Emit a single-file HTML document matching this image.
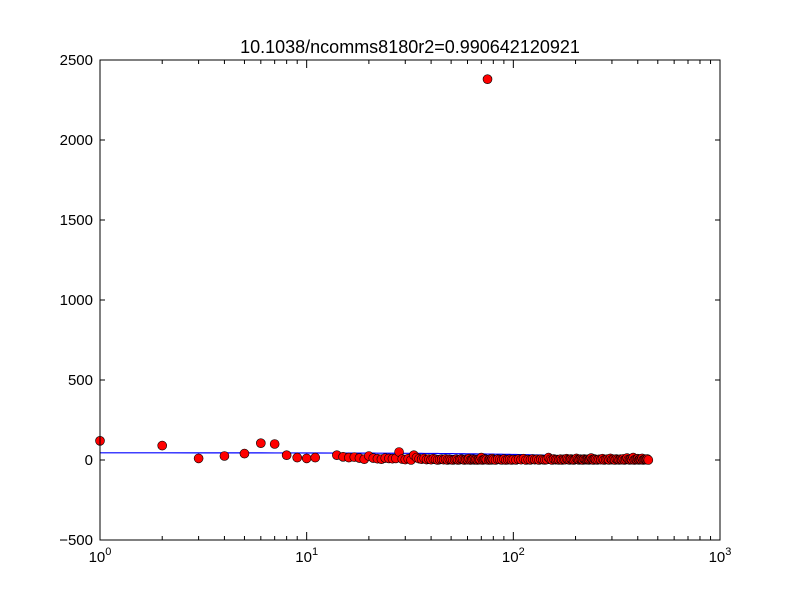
<!DOCTYPE html>
<html><head><meta charset="utf-8"><style>
body{margin:0;background:#fff;}
svg text{font-family:"Liberation Sans","DejaVu Sans",sans-serif;}
</style></head><body>
<svg id="chart" width="800" height="600" xmlns="http://www.w3.org/2000/svg">
<rect width="800" height="600" fill="#fff"/>
<text x="410" y="53" font-size="18" text-anchor="middle">10.1038/ncomms8180r2=0.990642120921</text>
<g id="marks"></g>
<rect x="100" y="60" width="620" height="480" fill="none" stroke="#000" stroke-width="1"/>
<g id="axes"></g>
</svg>
<script>
const yTicks=[-500,0,500,1000,1500,2000,2500];
const xTickExps=[0,1,2,3];
const xHead=[1,2,3,4,5,6,7,8,9,10,11];
const yHead=[120,90,10,25,40,105,100,30,15,10,15];
const xBody=[14,15,16,17,18,19,20,21,22,23,24,25,26,27,28,29,30,31,32,33,34,35,36,37,38,39,40,41,42,43,44,45,46,47,48,49,50,51,52,53,54,55,56,57,58,59,60,61,62,63,64,65,66,67,68,69,70,71,72,73,74,76,77,78,79,80,82,84,86,88,90,92,94,96,98,100,103,106,109,112,115,118,121,124,127,130,133,136,139,142,145,148,151,154,157,160,163,166,169,172,175,178,181,184,187,190,193,196,199,202,205,208,211,214,217,220,223,226,229,232,235,238,241,244,247,250,255,260,265,270,275,280,285,290,295,300,305,310,315,320,325,330,335,340,345,350,355,360,365,370,375,380,385,390,395,400,405,410,415,420,425,430,435,440,445,450];
const yBody=[30,20,15,18,12,5,25,12,8,5,12,10,8,10,50,6,3,8,0,30,15,8,5,10,3,6,2,8,4,0,3,5,2,6,0,4,2,0,3,5,0,2,6,3,0,4,2,8,0,2,5,1,3,0,4,2,15,0,3,6,2,0,4,1,8,2,0,5,3,1,6,0,2,4,0,3,1,5,2,8,0,3,1,6,2,4,0,5,2,1,3,15,4,0,6,2,3,1,5,0,4,2,8,3,1,6,2,0,4,10,3,1,5,2,0,6,3,2,4,1,5,12,2,0,6,3,1,4,2,8,0,3,5,1,10,2,4,0,6,3,1,5,2,7,0,4,12,3,1,6,2,15,0,4,3,8,1,5,2,10,0,3,5,2,6,0];
const xOut=[75];
const yOut=[2380];
const fitIntercept=45, fitSlope=-0.105;
const L=100,R=720,T=60,B=540;
const xs=v=>L+(Math.log10(v)-0)/3*(R-L);
const ys=v=>B-(v+500)/3000*(B-T);
const NS="http://www.w3.org/2000/svg";
function mk(tag,attrs,parent){const e=document.createElementNS(NS,tag);for(const k in attrs)e.setAttribute(k,attrs[k]);parent.appendChild(e);return e;}
const marks=document.getElementById('marks'),axes=document.getElementById('axes');
const allX=xHead.concat(xBody);
const allY=yHead.concat(yBody);
const pts=allX.map(x=>xs(x).toFixed(2)+','+ys(fitIntercept+fitSlope*x).toFixed(2)).join(' ');
const line=mk('polyline',{points:pts,fill:'none',stroke:'#0000ff','stroke-width':1.2},marks);


function dot(x,y){
 const c=mk('circle',{cx:xs(x),cy:ys(y),r:4.5,fill:'#ff0000',stroke:'#000','stroke-width':0.6},marks);
 
 
}
const n=Math.min(allX.length,allY.length);
for(let i=0;i<n;i++)dot(allX[i],allY[i]);
for(let i=0;i<xOut.length;i++)dot(xOut[i],yOut[i]);
yTicks.forEach(v=>{
 const y=ys(v);
 mk('line',{x1:L,x2:L+5,y1:y,y2:y,stroke:'#000'},axes);
 mk('line',{x1:R,x2:R-5,y1:y,y2:y,stroke:'#000'},axes);
 const t=mk('text',{x:L-7,y:y+5,'font-size':15,'text-anchor':'end'},axes);
 t.textContent=v<0?'\u2212'+Math.abs(v):String(v);
 
 
});
xTickExps.forEach(e=>{
 const x=xs(Math.pow(10,e));
 mk('line',{x1:x,x2:x,y1:B,y2:B-8,stroke:'#000'},axes);
 mk('line',{x1:x,x2:x,y1:T,y2:T+8,stroke:'#000'},axes);
 const t=mk('text',{x:x,y:B+22,'font-size':15,'text-anchor':'middle'},axes);
 t.textContent='10';
 const s=mk('tspan',{dy:-7,'font-size':11},t);s.textContent=String(e);
 
 
 if(e<3)for(let m=2;m<10;m++){const xm=xs(m*Math.pow(10,e));
  mk('line',{x1:xm,x2:xm,y1:B,y2:B-4,stroke:'#000'},axes);
  mk('line',{x1:xm,x2:xm,y1:T,y2:T+4,stroke:'#000'},axes);}
});
</script>
</body></html>
